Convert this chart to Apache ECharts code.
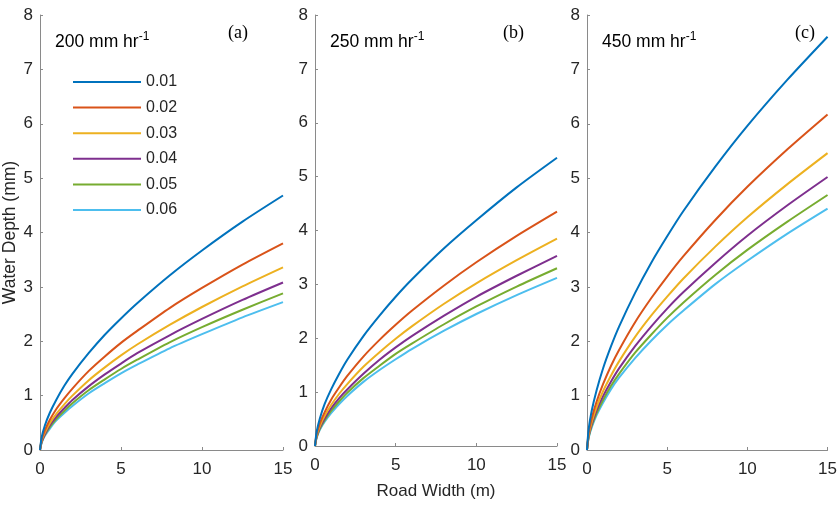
<!DOCTYPE html>
<html>
<head>
<meta charset="utf-8">
<script src="https://cdn.jsdelivr.net/npm/echarts@6/dist/echarts.min.js"></script>
<style>html,body{margin:0;padding:0;background:#fff}#c{width:840px;height:505px}</style>
</head>
<body>
<div id="c"></div>
<script>
// Road width (m)
const roadWidth = [0, 0.1, 0.3, 0.6, 1, 1.5, 2, 3, 4, 5, 6, 8, 10, 12.5, 15];
const seriesNames = ['0.01', '0.02', '0.03', '0.04', '0.05', '0.06'];
const panelLabels = ['(a)', '(b)', '(c)'];
const rainfallLabels = ['200 mm hr', '250 mm hr', '450 mm hr'];
const xTicks = [0, 5, 10, 15];
const yTicks = [0, 1, 2, 3, 4, 5, 6, 7, 8];

// Panel (a) 200 mm/hr
const a001 = [0, 0.23, 0.45, 0.68, 0.92, 1.18, 1.40, 1.78, 2.12, 2.42, 2.70, 3.21, 3.67, 4.20, 4.68];
const a002 = [0, 0.19, 0.36, 0.55, 0.75, 0.95, 1.13, 1.45, 1.72, 1.97, 2.19, 2.61, 2.98, 3.41, 3.80];
const a003 = [0, 0.17, 0.32, 0.49, 0.66, 0.84, 1.00, 1.28, 1.52, 1.74, 1.94, 2.30, 2.63, 3.01, 3.36];
const a004 = [0, 0.15, 0.29, 0.45, 0.61, 0.77, 0.92, 1.17, 1.39, 1.59, 1.78, 2.11, 2.41, 2.76, 3.08];
const a005 = [0, 0.14, 0.28, 0.42, 0.57, 0.72, 0.86, 1.10, 1.30, 1.49, 1.66, 1.98, 2.26, 2.58, 2.88];
const a006 = [0, 0.13, 0.26, 0.39, 0.54, 0.68, 0.81, 1.04, 1.23, 1.41, 1.57, 1.87, 2.13, 2.44, 2.72];
// Panel (b) 250 mm/hr
const b001 = [0, 0.26, 0.51, 0.78, 1.05, 1.34, 1.60, 2.04, 2.42, 2.77, 3.09, 3.67, 4.19, 4.80, 5.35];
const b002 = [0, 0.22, 0.42, 0.63, 0.86, 1.09, 1.30, 1.66, 1.97, 2.25, 2.51, 2.98, 3.41, 3.90, 4.35];
const b003 = [0, 0.19, 0.37, 0.56, 0.76, 0.97, 1.15, 1.47, 1.74, 1.99, 2.22, 2.64, 3.02, 3.45, 3.85];
const b004 = [0, 0.17, 0.34, 0.51, 0.70, 0.89, 1.05, 1.34, 1.60, 1.83, 2.04, 2.42, 2.77, 3.16, 3.53];
const b005 = [0, 0.16, 0.32, 0.48, 0.65, 0.83, 0.99, 1.26, 1.49, 1.71, 1.90, 2.26, 2.59, 2.96, 3.30];
const b006 = [0, 0.15, 0.30, 0.45, 0.61, 0.78, 0.93, 1.19, 1.41, 1.61, 1.80, 2.14, 2.45, 2.80, 3.12];
// Panel (c) 450 mm/hr
const c001 = [0, 0.38, 0.73, 1.10, 1.50, 1.91, 2.27, 2.89, 3.44, 3.93, 4.39, 5.21, 5.96, 6.81, 7.60];
const c002 = [0, 0.31, 0.59, 0.89, 1.21, 1.55, 1.84, 2.35, 2.79, 3.19, 3.56, 4.23, 4.84, 5.53, 6.17];
const c003 = [0, 0.27, 0.52, 0.79, 1.08, 1.37, 1.63, 2.08, 2.47, 2.82, 3.15, 3.74, 4.28, 4.89, 5.46];
const c004 = [0, 0.25, 0.48, 0.73, 0.99, 1.26, 1.50, 1.91, 2.27, 2.60, 2.90, 3.44, 3.94, 4.50, 5.02];
const c005 = [0, 0.23, 0.45, 0.68, 0.92, 1.18, 1.40, 1.79, 2.12, 2.43, 2.71, 3.22, 3.68, 4.20, 4.69];
const c006 = [0, 0.22, 0.42, 0.64, 0.87, 1.12, 1.33, 1.69, 2.01, 2.30, 2.56, 3.05, 3.48, 3.98, 4.44];

const panels = [
  [a001, a002, a003, a004, a005, a006],
  [b001, b002, b003, b004, b005, b006],
  [c001, c002, c003, c004, c005, c006]
];
const colors = ['#0072BD', '#D95319', '#EDB120', '#7E2F8E', '#77AC30', '#4DBEEE'];

const gridPos = [
  {left: 40, top: 15, width: 243, height: 435},
  {left: 315, top: 15, width: 242, height: 435},
  {left: 587, top: 15, width: 242, height: 435}
];
const font = 'Liberation Sans, Arial, Helvetica, sans-serif';
const axisColor = '#8a8a8a';
const labelColor = '#262626';

const grids = [], xAxes = [], yAxes = [], series = [], titles = [];
gridPos.forEach((g, i) => {
  grids.push(Object.assign({containLabel: false}, g));
  xAxes.push({
    type: 'value', gridIndex: i, min: 0, max: 15, interval: 5,
    axisLine: {show: true, lineStyle: {color: axisColor, width: 1}},
    axisTick: {show: true, inside: true, length: 3, lineStyle: {color: axisColor}},
    splitLine: {show: false},
    axisLabel: {color: labelColor, fontSize: 17, fontFamily: font, margin: 11},
    name: i === 1 ? 'Road Width (m)' : '',
    nameLocation: 'middle', nameGap: 37,
    nameTextStyle: {color: labelColor, fontSize: 17, fontFamily: font}
  });
  yAxes.push({
    type: 'value', gridIndex: i, min: 0, max: 8, interval: 1,
    axisLine: {show: true, lineStyle: {color: axisColor, width: 1}},
    axisTick: {show: true, inside: true, length: 3, lineStyle: {color: axisColor}},
    splitLine: {show: false},
    axisLabel: {color: labelColor, fontSize: 17, fontFamily: font, margin: 7},
    name: i === 0 ? 'Water Depth (mm)' : '',
    nameLocation: 'middle', nameGap: 16,
    nameTextStyle: {color: labelColor, fontSize: 17.5, fontFamily: font}
  });
  panels[i].forEach((vals, k) => {
    series.push({
      type: 'line', name: seriesNames[k], xAxisIndex: i, yAxisIndex: i,
      data: roadWidth.map((x, j) => [x, vals[j]]),
      showSymbol: false, symbol: 'none', smooth: 0.25,
      lineStyle: {color: colors[k], width: 2}, itemStyle: {color: colors[k]},
      z: 10 - k
    });
  });
  titles.push({
    text: '{m|' + rainfallLabels[i] + '}{s|-1}',
    left: [55, 330, 602][i], top: 31, padding: 0,
    textStyle: {fontWeight: 'normal', rich: {
      m: {fontSize: 17.5, fontWeight: 'normal', fontFamily: font, color: '#000', verticalAlign: 'bottom', lineHeight: 20},
      s: {fontSize: 12, fontWeight: 'normal', fontFamily: font, color: '#000', verticalAlign: 'top', lineHeight: 20, padding: [0, 0, 10, 0]}
    }}
  });
  titles.push({
    text: panelLabels[i],
    left: [228, 503, 795][i], top: 24, padding: 0,
    textStyle: {fontSize: 18, fontWeight: 'normal', fontFamily: 'Liberation Serif, Times New Roman, serif', color: '#000'}
  });
});

const chart = echarts.init(document.getElementById('c'), null, {renderer: 'canvas'});
chart.setOption({
  animation: false,
  backgroundColor: '#fff',
  title: titles,
  grid: grids,
  xAxis: xAxes,
  yAxis: yAxes,
  series: series,
  legend: {
    data: seriesNames.map((n, k) => ({name: n, icon: 'rect', itemStyle: {color: colors[k]}})),
    orient: 'vertical', left: 73, top: 74, padding: 0,
    itemWidth: 68, itemHeight: 2, itemGap: 9.6,
    textStyle: {fontSize: 16, fontFamily: font, color: labelColor, lineHeight: 16},
    selectedMode: false
  }
});
</script>
</body>
</html>
